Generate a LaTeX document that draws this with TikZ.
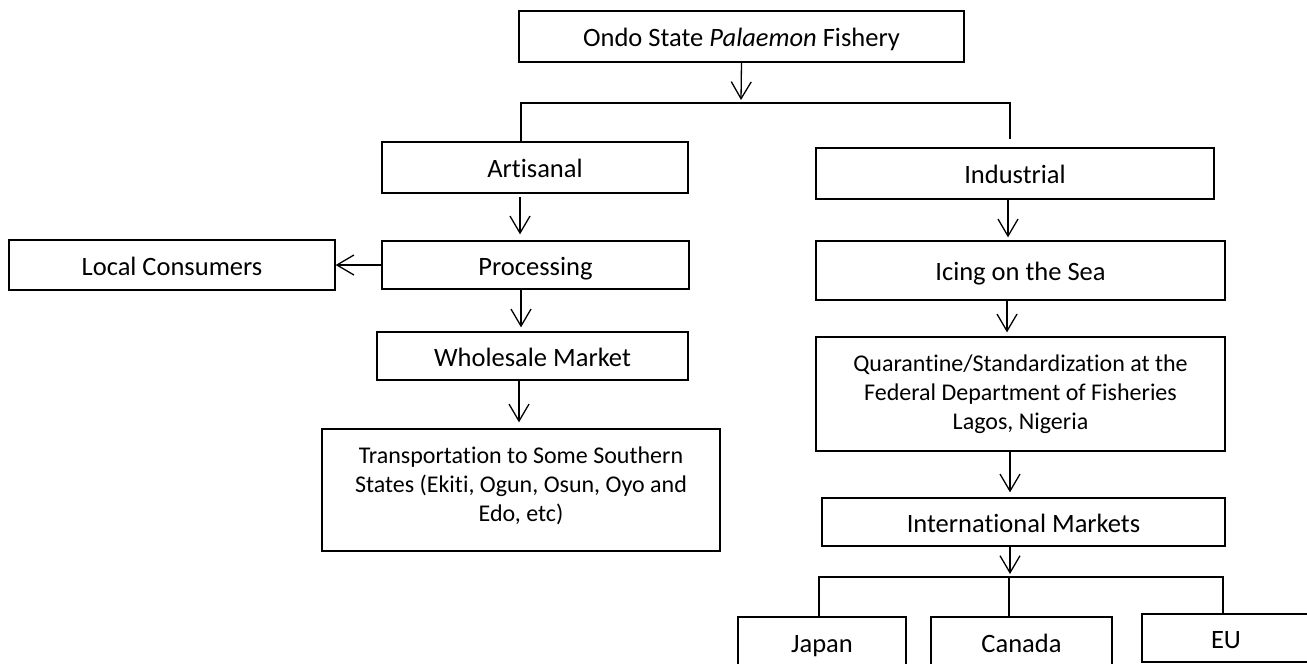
\documentclass[tikz,border=0pt]{standalone}
\usepackage{fontspec}
\setmainfont{Carlito}[Ligatures=NoCommon]
\usetikzlibrary{arrows.meta}
\begin{document}
\begin{tikzpicture}[x=1pt,y=-1pt,
  box/.style={draw=black,line width=1.3pt,inner sep=0pt,align=center,
    font=\fontsize{26.5}{31}\selectfont,text height=24pt,text depth=4pt},
  smallbox/.style={draw=black,line width=1.3pt,inner sep=0pt,align=center,
    font=\fontsize{24}{29}\selectfont},
  arr/.style={line width=1.3pt,-{Straight Barb[length=17pt,width=20pt,line width=1.3pt]}},
  bar/.style={line width=2.8pt},
  leg/.style={line width=1.6pt}]
\useasboundingbox (0,0) rectangle (1307,664);
% nodes
\node[box,minimum width=445pt,minimum height=51pt] (top) at (741.5,36.5) {Ondo State \textit{Palaemon} Fishery};
\node[box,minimum width=306pt,minimum height=51pt] (art) at (535,167.5) {Artisanal};
\node[box,minimum width=398pt,minimum height=51pt] (ind) at (1015,173.5) {Industrial};
\node[box,minimum width=307pt,minimum height=48pt] (proc) at (535.5,265) {Processing};
\node[box,minimum width=326pt,minimum height=50pt] (loc) at (172,265) {Local Consumers};
\node[box,minimum width=409pt,minimum height=59pt] (ice) at (1020.5,270.5) {Icing on the Sea};
\node[box,minimum width=311pt,minimum height=48pt] (whole) at (532.5,356) {Wholesale Market};
\node[smallbox,minimum width=409pt,minimum height=114pt] (quar) at (1020.5,394) {Quarantine/Standardization at the\\Federal Department of Fisheries\\Lagos, Nigeria};
\node[smallbox,minimum width=398pt,minimum height=122pt,text depth=11pt] (trans) at (521,490) {Transportation to Some Southern\\States (Ekiti, Ogun, Osun, Oyo and\\Edo, etc)};
\node[box,minimum width=403pt,minimum height=48pt] (intl) at (1023.5,522) {International Markets};
\node[box,minimum width=168pt,minimum height=50pt] (jap) at (822,642) {Japan};
\node[box,minimum width=181pt,minimum height=50pt] (can) at (1021.5,642) {Canada};
\node[box,minimum width=168pt,minimum height=48pt] (eu) at (1226,638) {EU};
% first split
\coordinate (bl) at (521,103);
\coordinate (bm) at (741,103);
\coordinate (br) at (1010,103);
\draw[arr] (top.south) -- ([yshift=3pt]bm);
\draw[bar] ([xshift=-1pt]bl) -- ([xshift=1pt]br);
\draw[leg] (bl) -- (bl |- art.north);
\draw[leg] (br) -- ([yshift=8pt]br |- ind.north);
% artisanal chain
\draw[arr] ([xshift=-15pt,yshift=-3pt]art.south) -- ([xshift=-15.5pt,yshift=6pt]proc.north);
\draw[arr] (proc.west) -- (proc.west -| loc.east);
\draw[arr] ([xshift=-14.5pt]proc.south) -- ([xshift=-11.5pt,yshift=4pt]whole.north);
\draw[arr] ([xshift=-13.5pt]whole.south) -- ([xshift=-2pt,yshift=6pt]trans.north);
% industrial chain
\draw[arr] ([xshift=-7pt]ind.south) -- ([xshift=-12.5pt,yshift=3pt]ice.north);
\draw[arr] ([xshift=-13.5pt]ice.south) -- ([xshift=-13.5pt,yshift=4pt]quar.north);
\draw[arr] ([xshift=-10.5pt]quar.south) -- ([xshift=-13.5pt,yshift=5pt]intl.north);
% second split
\coordinate (cl) at (819,577);
\coordinate (cm) at (1009,577);
\coordinate (cr) at (1223,577);
\draw[arr] ([xshift=-13.5pt]intl.south) -- ([xshift=1pt,yshift=3pt]cm);
\draw[bar] ([xshift=-1pt]cl) -- ([xshift=1pt]cr);
\draw[leg] (cl) -- (cl |- jap.north);
\draw[leg] (cm) -- (cm |- can.north);
\draw[leg] (cr) -- (cr |- eu.north);
\end{tikzpicture}
\end{document}
